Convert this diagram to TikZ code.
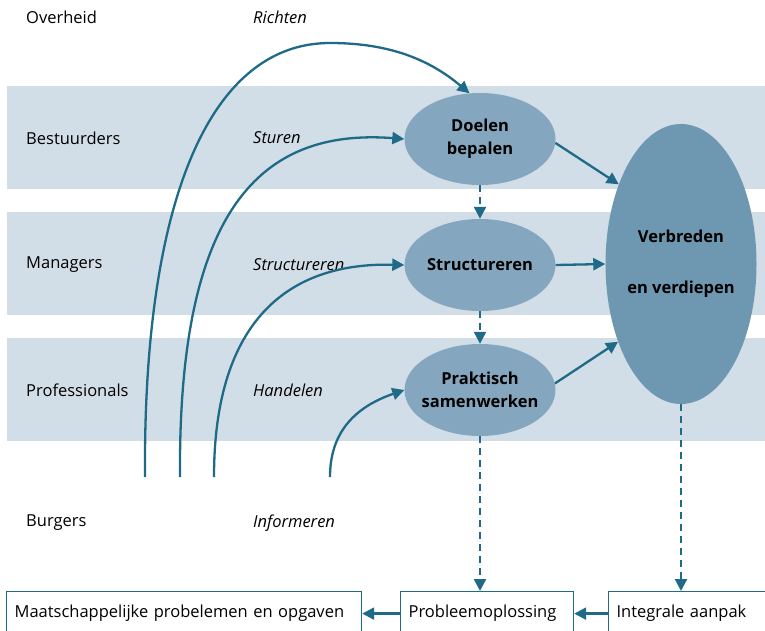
\documentclass[tikz,border=0pt]{standalone}
\usepackage{fontspec}
\setmainfont{Open Sans}
\usetikzlibrary{arrows.meta,shapes.geometric}
\definecolor{band}{HTML}{D2DEE7}
\definecolor{ellsmall}{HTML}{84A7BF}
\definecolor{ellbig}{HTML}{6E98B1}
\definecolor{link}{HTML}{1E6A87}
\newcommand{\labelfont}{\fontsize{16.5}{23}\selectfont}
\tikzset{
  every node/.style={font=\labelfont, inner sep=0pt},
  rowlabel/.style={anchor=west},
  verb/.style={anchor=west, font=\labelfont\itshape},
  goal/.style={ellipse, fill=ellsmall, minimum width=151pt, minimum height=92pt,
    inner xsep=-20pt, inner ysep=-6pt,
    align=center, font=\labelfont\bfseries},
  biggoal/.style={ellipse, fill=ellbig, minimum width=151pt, minimum height=280pt,
    inner sep=-10pt, align=center, font=\labelfont\bfseries},
  outbox/.style={draw=link, line width=1.2pt, minimum height=44pt, anchor=north west,
    inner xsep=8pt, align=left},
  flow/.style={draw=link, line width=2.3pt, -{Triangle[length=12pt,width=12pt]}},
  dflow/.style={flow, dash pattern=on 7pt off 5pt},
}
\begin{document}
\begin{tikzpicture}[x=1pt,y=-1pt]
\useasboundingbox (0,0) rectangle (765,631);

% horizontal bands for the three layers
\fill[band] (7,86) rectangle (765,189);
\fill[band] (7,212) rectangle (765,315);
\fill[band] (7,338) rectangle (765,441);

% actor and activity labels
\node[rowlabel] (overheid) at (26,17) {Overheid};
\node[verb] (richten) at (253,17) {Richten};
\node[rowlabel] (bestuurders) at (26,138) {Bestuurders};
\node[verb] (sturen) at (253,138) {Sturen};
\node[rowlabel] (managers) at (26,265) {Managers};
\node[verb] (structureren) at (253,265) {Structureren};
\node[rowlabel] (professionals) at (26,390) {Professionals};
\node[verb] (handelen) at (253,390) {Handelen};
\node[rowlabel] (burgers) at (26,523) {Burgers};
\node[verb] (informeren) at (253,523) {Informeren};

% goals
\node[goal] (doel) at (480,139) {Doelen\\bepalen};
\node[goal] (struct) at (480,265) {Structureren};
\node[goal] (prak) at (480,390) {Praktisch\\samenwerken};
\node[biggoal] (verbr) at (681,264) {Verbreden\\[28pt]en verdiepen};

% outcome boxes
\node[outbox, minimum width=355pt, text width=339pt] (maat) at (6,591) {Maatschappelijke probelemen en opgaven};
\node[outbox, minimum width=173pt, text width=157pt] (prob) at (400,591) {Probleemoplossing};
\node[outbox, minimum width=170pt, text width=154pt] (integ) at (608,591) {Integrale aanpak};

% start points of the citizen influence curves
\coordinate (c1) at (145,477);
\coordinate (c2) at (180,477);
\coordinate (c3) at (214,477);
\coordinate (c4) at (330,477);

\draw[flow] (c1) .. controls (143,200) and (210,43) .. (330,43)
  .. controls (390,43) and (430,60) .. (doel.103);
\draw[flow] (c2) .. controls (178,210) and (260,128) .. (doel.west);
\draw[flow] (c3) .. controls (214,330) and (280,262) .. (struct.west);
\draw[flow] (c4) .. controls (330,435) and (352,408) .. (prak.west);

% links between goals
\draw[dflow] (doel.south) -- (struct.north);
\draw[dflow] (struct.south) -- (prak.north);
\draw[flow] (doel.-3) -- (verbr.128);
\draw[flow] (struct.east) -- (verbr.west);
\draw[flow] (prak.5) -- (verbr.231);

% links down to the outcomes
\draw[dflow] (prak.south) -- (prob.north -| prak.south);
\draw[dflow] (verbr.south) -- (integ.north -| verbr.south);
\draw[flow] (prob.west) -- (maat.east);
\draw[flow] (integ.west) -- (prob.east);
\end{tikzpicture}
\end{document}
